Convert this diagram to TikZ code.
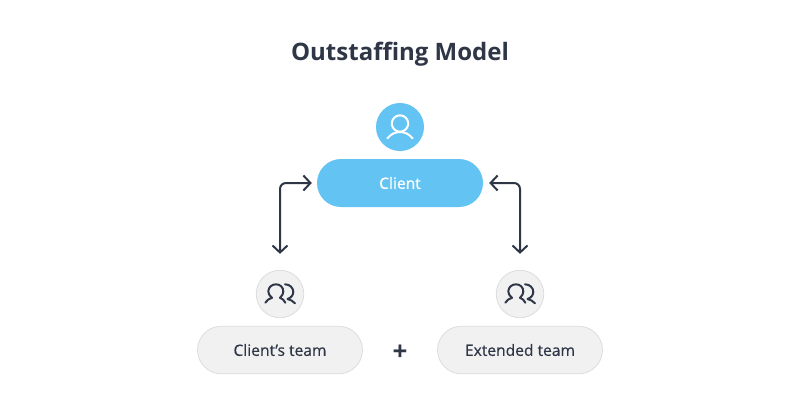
\documentclass[tikz,border=0pt]{standalone}
\usepackage{fontspec}
\setmainfont{Open Sans}
\newfontface\semib[FakeBold=0.5]{Open Sans}
\newfontface\semibw[FakeBold=0.9]{Open Sans}
\usetikzlibrary{arrows.meta,shapes.misc}
\definecolor{inkc}{HTML}{2F3747}
\definecolor{bluec}{HTML}{63C3F2}
\definecolor{greyf}{HTML}{F1F1F2}
\definecolor{greyd}{HTML}{DCDDDE}
\tikzset{
  x=1pt,y=-1pt,
  bluepill/.style={rounded rectangle,draw=none,fill=bluec,minimum width=166pt,minimum height=48pt,text=white,inner sep=0pt,font=\fontsize{15.6}{18}\semibw},
  greypill/.style={rounded rectangle,draw=greyd,line width=0.8pt,fill=greyf,minimum width=165pt,minimum height=47.5pt,text=inkc,inner sep=0pt,font=\fontsize{15.6}{18}\semib},
  bluecirc/.style={circle,fill=bluec,minimum size=48pt,inner sep=0pt},
  greycirc/.style={circle,draw=greyd,line width=0.8pt,fill=greyf,minimum size=47.5pt,inner sep=0pt},
  link/.style={draw=inkc,line width=2pt,rounded corners=6pt,{Straight Barb[length=7pt,width=15pt,line width=2pt]}-{Straight Barb[length=7pt,width=15pt,line width=2pt]}},
  glyph/.style={line width=2pt,line cap=round,line join=round},
}
\begin{document}
\begin{tikzpicture}
\useasboundingbox (0,0) rectangle (800,400);
\fill[white] (0,0) rectangle (800,400);
\node[text=inkc,font=\fontsize{24}{28}\selectfont\bfseries] (title) at (400,54) {Outstaffing Model};
\node[bluepill] (client) at (400,183) {Client};
\node[bluecirc] (clienticon) at (400,127) {};
\node[greypill] (own) at (280,350) {Client’s team};
\node[greypill] (ext) at (520,350) {Extended team};
\node[greycirc] (ownicon) at (280,294) {};
\node[greycirc] (exticon) at (520,294) {};
\node[text=inkc,font=\fontsize{26}{28}\selectfont\bfseries] (plus) at (400,353) {+};
\draw[link,shorten <=16pt,shorten >=5pt] (ownicon.north) |- (client.west);
\draw[link,shorten <=16pt,shorten >=6pt] (exticon.north) |- (client.east);
% person icon
\draw[glyph,white] (400,123.5) circle (8.2);
\draw[glyph,white] (387.3,138.5) .. controls (391,134) and (395,132) .. (400,132) .. controls (405,132) and (409,134) .. (412.7,138.5);
% team icons
\foreach \cx in {280,520}{
  \begin{scope}[shift={(\cx,294)}]
    \draw[glyph,inkc] (-14.7,8.7) .. controls (-13,6) and (-11,4.7) .. (-8,3.8) .. controls (-10.5,2) and (-11.7,-0.5) .. (-11.7,-2.5) .. controls (-11.7,-6.7) and (-8.2,-9.7) .. (-4,-9.7) .. controls (0.2,-9.7) and (3.3,-6.7) .. (3.3,-2.5) .. controls (3.3,-0.5) and (2.2,2) .. (0,3.8) .. controls (2.5,4.7) and (4,6) .. (5.3,8.7);
    \draw[glyph,inkc] (5,-9.7) .. controls (10,-9.7) and (13.3,-6) .. (13.3,-2) .. controls (13.3,1) and (11,4) .. (7.5,5) .. controls (10.5,5.7) and (13,7) .. (15,9.3);
  \end{scope}
}
\end{tikzpicture}
\end{document}
